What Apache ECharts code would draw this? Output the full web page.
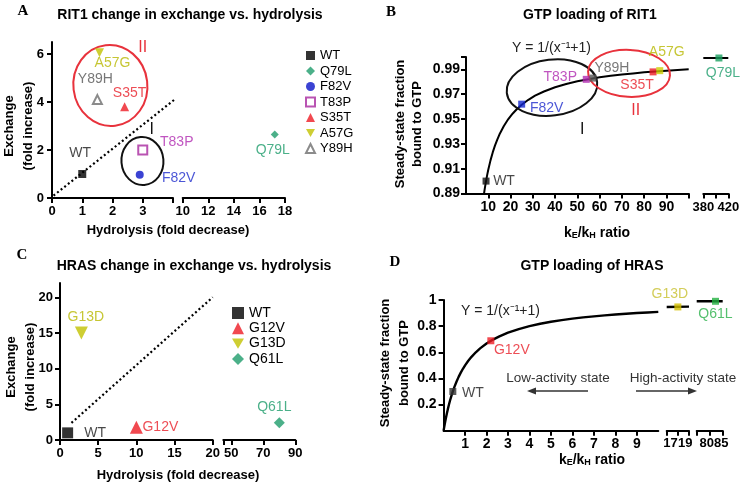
<!DOCTYPE html>
<html><head><meta charset="utf-8">
<script src="https://cdn.jsdelivr.net/npm/echarts@6/dist/echarts.min.js"></script>
<style>html,body{margin:0;padding:0;background:#fff}#c{width:745px;height:485px}</style>
</head><body><div id="c"></div>
<script>
// ---------- DATA ----------
// Panel A: RIT1 change in exchange vs. hydrolysis
const aNames = ['WT', 'Q79L', 'F82V', 'T83P', 'S35T', 'A57G', 'Y89H'];
const aHydrolysis = [1, 17.2, 2.9, 3.0, 2.4, 1.57, 1.5];
const aExchange = [1, 2.65, 0.97, 2.0, 3.8, 6.05, 4.1];
const aDiagX = [0.05, 4.05];
const aDiagY = [0.1, 4.1];
const aYTicks = [0, 2, 4, 6];
const aX1Ticks = [0, 1, 2, 3, 4];
const aX1Labels = [0, 1, 2, 3];
const aX2Ticks = [10, 12, 14, 16, 18];

// Panel B: GTP loading of RIT1
const bNames = ['WT', 'F82V', 'T83P', 'Y89H', 'S35T', 'A57G', 'Q79L'];
const bRatio = [9, 25, 54, 57, 84, 87, 405];
const bFraction = [0.900, 0.962, 0.982, 0.983, 0.988, 0.989, 0.9992];
const bCurveX = [8, 8.5, 9, 9.5, 10, 11, 12, 13, 14, 15, 17, 19, 21, 23, 25, 28, 31, 35, 40, 45, 50, 55, 60, 65, 70, 75, 80, 85, 90, 95, 100];
const bCurveY = [0.8889, 0.8947, 0.9, 0.9048, 0.9091, 0.9167, 0.9231, 0.9286, 0.9333, 0.9375, 0.9444, 0.95, 0.9545, 0.9583, 0.9615, 0.9655, 0.9688, 0.9722, 0.9756, 0.9783, 0.9804, 0.9821, 0.9836, 0.9848, 0.9859, 0.9868, 0.9877, 0.9884, 0.989, 0.9896, 0.9901];
const bTailX = [380, 420];
const bTailY = [0.9992, 0.9992];
const bYTicks = [0.89, 0.91, 0.93, 0.95, 0.97, 0.99, 1.0];
const bYLabels = [0.89, 0.91, 0.93, 0.95, 0.97, 0.99];
const bX1Ticks = [10, 20, 30, 40, 50, 60, 70, 80, 90, 100];
const bX1Labels = [10, 20, 30, 40, 50, 60, 70, 80, 90];
const bX2Ticks = [380, 400, 420];
const bX2Labels = [380, 420];

// Panel C: HRAS change in exchange vs. hydrolysis
const cNames = ['WT', 'G12V', 'G13D', 'Q61L'];
const cHydrolysis = [1, 10, 2.8, 80];
const cExchange = [1, 1.8, 15, 2.4];
const cDiagX = [1.5, 20];
const cDiagY = [2.4, 20];
const cYTicks = [0, 5, 10, 15, 20];
const cX1Ticks = [0, 5, 10, 15, 20];
const cX2Ticks = [45, 50, 70, 90];
const cX2Labels = [50, 70, 90];

// Panel D: GTP loading of HRAS
const dNames = ['WT', 'G12V', 'G13D', 'Q61L'];
const dRatio = [0.43, 2.2, 18, 83];
const dFraction = [0.30, 0.688, 0.947, 0.99];
const dCurveX = [0, 0.02, 0.05, 0.08, 0.12, 0.16, 0.2, 0.25, 0.3, 0.36, 0.43, 0.5, 0.6, 0.7, 0.8, 0.9, 1, 1.15, 1.3, 1.5, 1.7, 2, 2.3, 2.6, 3, 3.5, 4, 4.5, 5, 5.5, 6, 6.5, 7, 7.5, 8, 8.5, 9, 9.5, 10];
const dCurveY = [0, 0.0196, 0.0476, 0.0741, 0.1071, 0.1379, 0.1667, 0.2, 0.2308, 0.2647, 0.3007, 0.3333, 0.375, 0.4118, 0.4444, 0.4737, 0.5, 0.5349, 0.5652, 0.6, 0.6296, 0.6667, 0.697, 0.7222, 0.75, 0.7778, 0.8, 0.8182, 0.8333, 0.8462, 0.8571, 0.8667, 0.875, 0.8824, 0.8889, 0.8947, 0.9, 0.9048, 0.9091];
const dTail2X = [16.5, 19.5];
const dTail2Y = [0.946, 0.949];
const dTail3X = [76.5, 85.5];
const dTail3Y = [0.99, 0.99];
const dYTicks = [0.2, 0.4, 0.6, 0.8, 1];
const dX1Ticks = [1, 2, 3, 4, 5, 6, 7, 8, 9];
const dX2Ticks = [16.5, 18, 19.5];
const dX2Labels = [17, 19];
const dX3Ticks = [76.5, 81, 85.5];
const dX3Labels = [80, 85];

// ---------- STYLE / LAYOUT ----------
const SANS = '"Liberation Sans", Arial, sans-serif';
const SERIF = '"Liberation Serif", "Times New Roman", serif';
const DOWN_TRI = 'path://M0,0L20,0L10,17.3Z';
const STY = {
  WT:   {symbol: 'rect', color: '#000000', text: '#1a1a1a'},
  Q79L: {symbol: 'diamond', color: '#1e9c6c', text: '#1e9c6c'},
  F82V: {symbol: 'circle', color: '#0a14c8', text: '#1e2ccc'},
  T83P: {symbol: 'emptyRect', color: '#a8289f', text: '#b02ab0'},
  S35T: {symbol: 'triangle', color: '#ee1c24', text: '#e8202a'},
  A57G: {symbol: DOWN_TRI, color: '#c2c200', text: '#b8b800'},
  Y89H: {symbol: 'emptyTriangle', color: '#6e6e6e', text: '#555555'},
  G12V: {symbol: 'triangle', color: '#ee1c24', text: '#e8202a'},
  G13D: {symbol: DOWN_TRI, color: '#c2c200', text: '#b8b800'},
  Q61L: {symbol: 'diamond', color: '#1e9c6c', text: '#1e9c6c'}
};
const CURVE_COL = {
  B: {WT: '#111', F82V: '#1428d0', T83P: '#b02ab0', Y89H: '#555', S35T: '#ee1c24', A57G: '#cccc00', Q79L: '#1aa060'},
  D: {WT: '#333', G12V: '#ee1c24', G13D: '#d4c000', Q61L: '#22b040'}
};
const LABEL_COL_D = {WT: '#1a1a1a', G12V: '#e8202a', G13D: '#c8c030', Q61L: '#2ab04a'};
const OFF = {
  A: {WT: [-2, -21], Q79L: [-2, 16], F82V: [39, 3], T83P: [34, -8], S35T: [5, -14], A57G: [13, 10], Y89H: [-2, -20]},
  B: {WT: [18, 0], F82V: [25, 4], T83P: [-26, -2], Y89H: [19, -10], S35T: [-16, 13], A57G: [7, -19], Q79L: [4, 15]},
  C: {WT: [27.5, 0], G12V: [24, 0], G13D: [4.5, -16], Q61L: [-5, -16]},
  D: {WT: [20, 2], G12V: [21, 9], G13D: [-8, -13], Q61L: [0, 13]}
};
const GRIDS = [
  {left: 52, top: 42, width: 121, height: 156},
  {left: 182.7, top: 42, width: 102.3, height: 156},
  {left: 466, top: 57, width: 222.7, height: 136.5},
  {left: 703.3, top: 57, width: 25, height: 136.5},
  {left: 60, top: 283, width: 152.7, height: 157},
  {left: 223.3, top: 283, width: 72, height: 157},
  {left: 443.6, top: 300, width: 214.7, height: 130.7},
  {left: 666.7, top: 300, width: 22.3, height: 130.7},
  {left: 696.7, top: 300, width: 26, height: 130.7}
];

function xAx(i, min, max, ticks, labels, fs, margin) {
  return {
    type: 'value', gridIndex: i, min: min, max: max,
    axisLine: {show: true, onZero: false, lineStyle: {color: '#000', width: 2}},
    axisTick: {show: true, length: 5, lineStyle: {color: '#000', width: 2}, customValues: ticks},
    axisLabel: {show: true, customValues: labels, showMinLabel: true, showMaxLabel: true, hideOverlap: false,
      color: '#000', fontWeight: 'bold', fontSize: fs, fontFamily: SANS, margin: margin},
    splitLine: {show: false}
  };
}
function yAx(i, min, max, ticks, labels, fs, margin, fmt, show) {
  return {
    type: 'value', gridIndex: i, min: min, max: max, show: show,
    axisLine: {show: true, onZero: false, lineStyle: {color: '#000', width: 2}},
    axisTick: {show: true, length: 5, lineStyle: {color: '#000', width: 2}, customValues: ticks},
    axisLabel: {show: true, customValues: labels, showMinLabel: true, showMaxLabel: true, hideOverlap: false,
      color: '#000', fontWeight: 'bold', fontSize: fs, fontFamily: SANS, margin: margin, formatter: fmt},
    splitLine: {show: false}
  };
}
const fmt2 = v => Number(v).toFixed(2);
const fmtD = v => (v === 1 ? '1' : String(v));
const fmtI = v => String(v);

const xAxis = [
  xAx(0, 0, 4, aX1Ticks, aX1Labels, 13, 7),
  xAx(1, 10, 18, aX2Ticks, aX2Ticks, 13, 7),
  xAx(2, 0, 100, bX1Ticks, bX1Labels, 14, 7),
  xAx(3, 380, 420, bX2Ticks, bX2Labels, 13, 7),
  xAx(4, 0, 20, cX1Ticks, cX1Ticks, 13, 7),
  xAx(5, 45, 90, cX2Ticks, cX2Labels, 13, 7),
  xAx(6, 0, 10, dX1Ticks, dX1Ticks, 14, 6),
  xAx(7, 16.5, 19.5, dX2Ticks, dX2Labels, 13, 6),
  xAx(8, 76.5, 85.5, dX3Ticks, dX3Labels, 13, 6)
];
const yAxis = [
  yAx(0, 0, 6.5, aYTicks, aYTicks, 13, 8, fmtI, true),
  yAx(1, 0, 6.5, aYTicks, aYTicks, 13, 8, fmtI, false),
  yAx(2, 0.89, 1.0, bYTicks, bYLabels, 14, 6, fmt2, true),
  yAx(3, 0.89, 1.0, bYTicks, bYLabels, 14, 6, fmt2, false),
  yAx(4, 0, 22, cYTicks, cYTicks, 13, 7, fmtI, true),
  yAx(5, 0, 22, cYTicks, cYTicks, 13, 7, fmtI, false),
  yAx(6, 0, 1, dYTicks, dYTicks, 14, 7, fmtD, true),
  yAx(7, 0, 1, dYTicks, dYTicks, 14, 7, fmtD, false),
  yAx(8, 0, 1, dYTicks, dYTicks, 14, 7, fmtD, false)
];

const zip = (xs, ys) => xs.map((x, i) => [x, ys[i]]);
const series = [];

// Panel A points (legend series)
aNames.forEach((n, i) => {
  const seg = aHydrolysis[i] > 5 ? 1 : 0;
  const s = STY[n];
  series.push({
    type: 'scatter', name: n, xAxisIndex: seg, yAxisIndex: seg, clip: false,
    data: [[aHydrolysis[i], aExchange[i]]],
    symbol: s.symbol,
    symbolSize: n === 'Q79L' ? 8 : (n === 'WT' || n === 'F82V' ? 8 : 9),
    itemStyle: {color: s.color},
    label: {show: true, formatter: n, position: 'inside', offset: OFF.A[n], color: s.text, fontSize: 14, fontFamily: SANS},
    z: 5
  });
});
// Panel C points (legend series)
cNames.forEach((n, i) => {
  const seg = cHydrolysis[i] > 30 ? 5 : 4;
  const s = STY[n];
  series.push({
    type: 'scatter', name: n, xAxisIndex: seg, yAxisIndex: seg, clip: false,
    data: [[cHydrolysis[i], cExchange[i]]],
    symbol: s.symbol,
    symbolSize: n === 'WT' ? 11 : (n === 'Q61L' ? 11 : 13),
    itemStyle: {color: s.color},
    label: {show: true, formatter: n, position: 'inside', offset: OFF.C[n], color: s.text, fontSize: 14, fontFamily: SANS},
    z: 5
  });
});
// diagonal dotted lines
series.push({type: 'line', xAxisIndex: 0, yAxisIndex: 0, clip: false, data: zip(aDiagX, aDiagY), symbol: 'none',
  lineStyle: {color: '#000', width: 2.2, type: [2, 2.6]}, z: 3, silent: true});
series.push({type: 'line', xAxisIndex: 4, yAxisIndex: 4, clip: false, data: zip(cDiagX, cDiagY), symbol: 'none',
  lineStyle: {color: '#000', width: 2.2, type: [2, 2.6]}, z: 3, silent: true});

// Panel B curve + points
series.push({type: 'line', xAxisIndex: 2, yAxisIndex: 2, data: zip(bCurveX, bCurveY), symbol: 'none',
  lineStyle: {color: '#000', width: 2}, z: 3, silent: true});
series.push({type: 'line', xAxisIndex: 3, yAxisIndex: 3, clip: false, data: zip(bTailX, bTailY), symbol: 'none',
  lineStyle: {color: '#000', width: 2}, z: 3, silent: true});
bNames.forEach((n, i) => {
  const seg = bRatio[i] > 200 ? 3 : 2;
  series.push({
    type: 'scatter', name: 'B ' + n, xAxisIndex: seg, yAxisIndex: seg, clip: false,
    data: [[bRatio[i], bFraction[i]]], symbol: 'rect', symbolSize: 7,
    itemStyle: {color: CURVE_COL.B[n]},
    label: {show: true, formatter: n, position: 'inside', offset: OFF.B[n], color: STY[n].text, fontSize: 14, fontFamily: SANS},
    z: 5
  });
});

// Panel D curve + points
series.push({type: 'line', xAxisIndex: 6, yAxisIndex: 6, data: zip(dCurveX, dCurveY), symbol: 'none',
  lineStyle: {color: '#000', width: 2.4}, z: 3, silent: true});
series.push({type: 'line', xAxisIndex: 7, yAxisIndex: 7, clip: false, data: zip(dTail2X, dTail2Y), symbol: 'none',
  lineStyle: {color: '#000', width: 2.4}, z: 3, silent: true});
series.push({type: 'line', xAxisIndex: 8, yAxisIndex: 8, clip: false, data: zip(dTail3X, dTail3Y), symbol: 'none',
  lineStyle: {color: '#000', width: 2.4}, z: 3, silent: true});
dNames.forEach((n, i) => {
  const seg = dRatio[i] > 50 ? 8 : (dRatio[i] > 12 ? 7 : 6);
  series.push({
    type: 'scatter', name: 'D ' + n, xAxisIndex: seg, yAxisIndex: seg, clip: false,
    data: [[dRatio[i], dFraction[i]]], symbol: 'rect', symbolSize: 7,
    itemStyle: {color: CURVE_COL.D[n]},
    label: {show: true, formatter: n, position: 'inside', offset: OFF.D[n], color: LABEL_COL_D[n], fontSize: 14, fontFamily: SANS},
    z: 5
  });
});

const legend = [
  {orient: 'vertical', left: 300, top: 44, itemWidth: 9, itemHeight: 9, itemGap: 2.5, data: aNames,
   textStyle: {fontSize: 13, fontFamily: SANS, color: '#000'}, selectedMode: false},
  {orient: 'vertical', left: 227, top: 301, itemWidth: 12, itemHeight: 12, itemGap: 1.3, data: cNames,
   textStyle: {fontSize: 14, fontFamily: SANS, color: '#000'}, selectedMode: false}
];

function txt(t, x, y, font, opts) {
  opts = opts || {};
  return {type: 'text', x: x, y: y, rotation: opts.rot || 0, silent: true, z: 10,
    style: {text: t, font: font, fill: opts.fill || '#000', textAlign: opts.align || 'center', textVerticalAlign: 'middle', rich: opts.rich}};
}
const TITLE_F = 'bold 14px ' + SANS;
const LETTER_F = 'bold 15px ' + SERIF;
const AXN_F = 'bold 13px ' + SANS;
const ANN_F = '14px ' + SANS;
const R90 = Math.PI / 2;
const kRich = {b: {font: 'bold 14px ' + SANS, fill: '#000'}, s: {font: 'bold 9px ' + SANS, fill: '#000', verticalAlign: 'bottom', padding: [6, 0, 0, 0]}};

const staticGraphics = [
  txt('A', 23, 11, LETTER_F), txt('B', 391, 12, LETTER_F), txt('C', 22, 255, LETTER_F), txt('D', 395, 262, LETTER_F),
  txt('RIT1 change in exchange vs. hydrolysis', 190, 15, TITLE_F),
  txt('GTP loading of RIT1', 590, 15, TITLE_F),
  txt('HRAS change in exchange vs. hydrolysis', 194, 266, TITLE_F),
  txt('GTP loading of HRAS', 592, 266, TITLE_F),
  txt('Hydrolysis (fold decrease)', 168, 230, AXN_F),
  txt('Hydrolysis (fold decrease)', 178, 475, AXN_F),
  txt('Exchange', 9, 126, AXN_F, {rot: R90}),
  txt('(fold increase)', 28, 126, AXN_F, {rot: R90}),
  txt('Exchange', 11, 367, AXN_F, {rot: R90}),
  txt('(fold increase)', 30, 367, AXN_F, {rot: R90}),
  txt('Steady-state fraction', 400, 124, AXN_F, {rot: R90}),
  txt('bound to GTP', 417.5, 124, AXN_F, {rot: R90}),
  txt('Steady-state fraction', 385, 363, AXN_F, {rot: R90}),
  txt('bound to GTP', 404, 363, AXN_F, {rot: R90}),
  txt('{b|k}{s|E}{b|/k}{s|H}{b| ratio}', 597, 233, AXN_F, {rich: kRich}),
  txt('{b|k}{s|E}{b|/k}{s|H}{b| ratio}', 592, 460, AXN_F, {rich: kRich}),
  txt('Y = 1/(x\u207B\u00B9+1)', 551.5, 48, ANN_F, {fill: '#222'}),
  txt('Y = 1/(x\u207B\u00B9+1)', 500.5, 311, ANN_F, {fill: '#222'}),
  txt('Low-activity state', 558, 378, '13.5px ' + SANS, {fill: '#333'}),
  txt('High-activity state', 683, 378, '13.5px ' + SANS, {fill: '#333'}),
  {type: 'line', silent: true, shape: {x1: 588, y1: 391, x2: 534, y2: 391}, style: {stroke: '#333', lineWidth: 1.6}},
  {type: 'polygon', silent: true, shape: {points: [[527, 391], [536, 387.5], [536, 394.5]]}, style: {fill: '#333'}},
  {type: 'line', silent: true, shape: {x1: 636, y1: 391, x2: 690, y2: 391}, style: {stroke: '#333', lineWidth: 1.6}},
  {type: 'polygon', silent: true, shape: {points: [[697, 391], [688, 387.5], [688, 394.5]]}, style: {fill: '#333'}}
];

const chart = echarts.init(document.getElementById('c'), null, {renderer: 'canvas'});
chart.setOption({
  animation: false, backgroundColor: '#fff',
  grid: GRIDS, xAxis: xAxis, yAxis: yAxis, series: series, legend: legend,
  graphic: staticGraphics
});

// group annotations (ellipses and group labels) positioned through axes
const ELL = [
  {ax: 0, c: [1.93, 4.69], rx: 37, ry: 40.5, rot: 0.12, color: '#e8323c'},
  {ax: 0, c: [2.99, 1.54], rx: 21, ry: 24, rot: 0.08, color: '#111'},
  {ax: 2, c: [38.6, 0.9754], rx: 45.5, ry: 28, rot: 0.12, color: '#111'},
  {ax: 2, c: [73.2, 0.9868], rx: 41, ry: 23.5, rot: -0.05, color: '#e8323c'}
];
const GLAB = [
  {ax: 0, c: [3.0, 6.25], t: 'II', color: '#e8323c'},
  {ax: 0, c: [3.3, 2.85], t: 'I', color: '#111'},
  {ax: 2, c: [52.2, 0.9411], t: 'I', color: '#111'},
  {ax: 2, c: [76.2, 0.9572], t: 'II', color: '#e8323c'}
];
const extra = [];
ELL.forEach(e => {
  const p = chart.convertToPixel({xAxisIndex: e.ax, yAxisIndex: e.ax}, e.c);
  extra.push({type: 'ellipse', x: p[0], y: p[1], rotation: e.rot, silent: true, z: 4,
    shape: {cx: 0, cy: 0, rx: e.rx, ry: e.ry}, style: {fill: 'none', stroke: e.color, lineWidth: 2}});
});
GLAB.forEach(g => {
  const p = chart.convertToPixel({xAxisIndex: g.ax, yAxisIndex: g.ax}, g.c);
  extra.push(txt(g.t, p[0], p[1], '16px ' + SANS, {fill: g.color}));
});
chart.setOption({graphic: staticGraphics.concat(extra)});
</script></body></html>
